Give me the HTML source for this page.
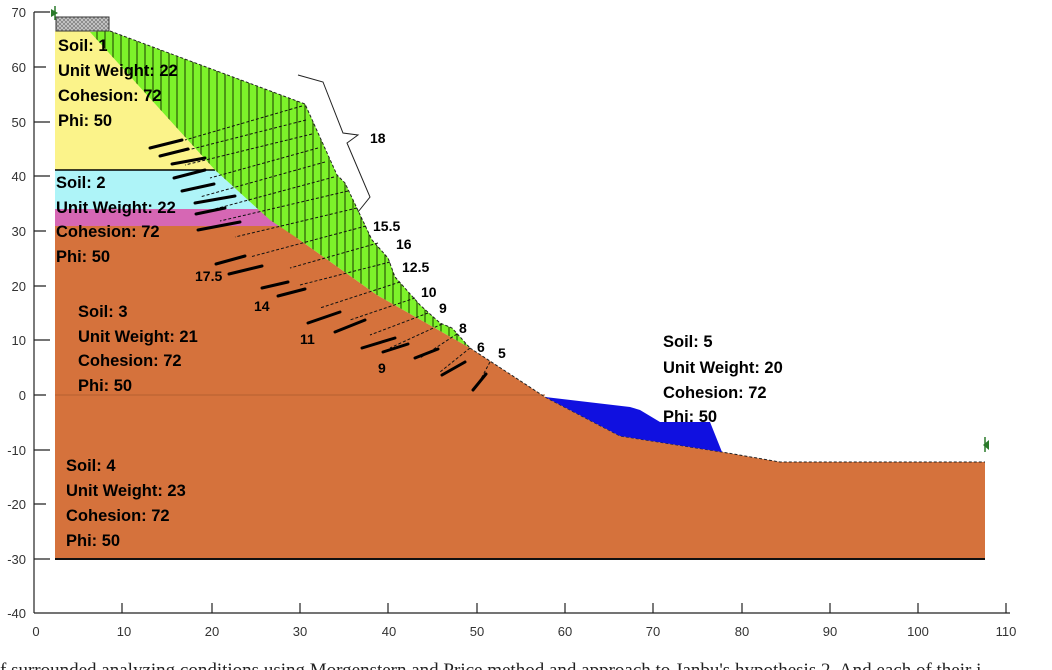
<!DOCTYPE html>
<html><head><meta charset="utf-8"><style>
html,body{margin:0;padding:0;background:#fff;width:1052px;height:670px;overflow:hidden}
svg{display:block}
.t{font-family:"Liberation Sans",Arial,sans-serif;font-weight:bold;font-size:16.5px;fill:#000}
.a{font-family:"Liberation Sans",Arial,sans-serif;font-size:13px;fill:#333}
</style></head><body>
<svg width="1052" height="670" viewBox="0 0 1052 670" xmlns="http://www.w3.org/2000/svg">
<defs>
<clipPath id="g"><polygon points="90,32 110,31 305,104 337,175 345,183 372,240 388,258 395,277 420,305 440,323 452,328 470,348 377,295 297,238 270,220 215,170"/></clipPath>
<pattern id="hx" width="4" height="4" patternUnits="userSpaceOnUse"><rect width="4" height="4" fill="#ccc"/><path d="M0,0L4,4M4,0L0,4" stroke="#777" stroke-width="0.7"/></pattern>
</defs>
<polygon points="55,559 55,226 285,226 297,238 377,295 470,348 545,397 620,436 722,452 780,462 985,462 985,559" fill="#d5723c"/>
<line x1="55" y1="395" x2="545" y2="395" stroke="#b5602f" stroke-width="1"/>
<line x1="55" y1="559" x2="985" y2="559" stroke="#111" stroke-width="2"/>
<polyline points="470,348 545,397 620,436 722,452 780,462 985,462" fill="none" stroke="#222" stroke-width="1" stroke-dasharray="3,2"/>
<polygon points="545,397 630,407 640,410 660,422 710,422 722,452 620,436" fill="#1010e0"/>
<polygon points="55,31 90,31 215,170 55,170" fill="#fbf38a"/>
<polygon points="55,170 215,170 258,209 55,209" fill="#aef4f8"/>
<polygon points="55,209 258,209 280,226 55,226" fill="#d667b4"/>
<line x1="55" y1="170" x2="215" y2="170" stroke="#000" stroke-width="1.5"/>
<polygon points="90,32 110,31 305,104 337,175 345,183 372,240 388,258 395,277 420,305 440,323 452,328 470,348 377,295 297,238 270,220 215,170" fill="#7df22a"/>
<g clip-path="url(#g)" stroke="#1a3a00" stroke-width="1">
<path d="M97,0V400M105,0V400M113,0V400M121,0V400M129,0V400M137,0V400M145,0V400M153,0V400M161,0V400M169,0V400M177,0V400M185,0V400M193,0V400M201,0V400M209,0V400M217,0V400M225,0V400M233,0V400M241,0V400M249,0V400M257,0V400M265,0V400M273,0V400M281,0V400M289,0V400M297,0V400M305,0V400M313,0V400M321,0V400M329,0V400M337,0V400M345,0V400M353,0V400M361,0V400M369,0V400M377,0V400M385,0V400M393,0V400M401,0V400M409,0V400M417,0V400M425,0V400M433,0V400M441,0V400M449,0V400M457,0V400M465,0V400"/>
</g>
<polyline points="110,31 305,104 337,175 345,183 372,240 388,258 395,277 420,305 440,323 452,328 470,348" fill="none" stroke="#222" stroke-width="1" stroke-dasharray="3,2"/>
<g stroke="#111" stroke-width="1" stroke-dasharray="3,2" fill="none">
<path d="M302,106L185,140M306,120L180,152M312,134L185,165M318,148L210,178M325,162L200,197M334,177L215,209M348,191L220,221M357,208L235,237M366,226L250,257M378,243L290,268M390,262L300,285M400,282L320,308M415,298L350,320M428,313L370,335M442,324L390,348M457,334L420,358M470,348L440,372M490,362L476,388"/>
</g>
<g stroke="#000" stroke-width="3" fill="none" stroke-linecap="round">
<path d="M150,148L182,140M160,156L188,149M172,164L205,158M174,178L205,170M182,191L214,184M195,203L235,196M196,214L225,208M198,230L240,222M216,264L245,256M229,274L262,266M262,288L288,282M278,296L305,289M308,323L340,312M335,332L365,320M362,348L395,338M383,352L408,344M415,358L438,349M442,375L465,362M473,390L486,374"/>
</g>
<rect x="56" y="17" width="53" height="14" fill="url(#hx)" stroke="#333" stroke-width="1"/>
<polyline points="298,75 323,82 343,133 358,135 347,143 370,197 358,212" fill="none" stroke="#222" stroke-width="1"/>
<line x1="55" y1="6" x2="55" y2="20" stroke="#2a7a2a" stroke-width="1.5"/><polygon points="51,9 58,13 51,17" fill="#2a7a2a"/>
<line x1="985" y1="437" x2="985" y2="452" stroke="#2a7a2a" stroke-width="1.5"/><polygon points="989,440 983,445 989,450" fill="#2a7a2a"/>
<g stroke="#222" stroke-width="1.2">
<line x1="34" y1="12" x2="34" y2="613"/>
<line x1="34" y1="613" x2="1010" y2="613"/>
<path d="M34,12H50M34,67H46M34,122H50M34,176H50M34,231H46M34,286H46M34,340H50M34,395H46M34,450H50M34,504H46M34,559H50"/>
<path d="M122,613V603M212,613V603M300,613V603M388,613V603M477,613V603M565,613V603M653,613V603M742,613V603M830,613V603M918,613V603M1006,613V603"/>
</g>
<g class="a" text-anchor="end">
<text x="26" y="17">70</text><text x="26" y="72">60</text><text x="26" y="127">50</text><text x="26" y="181">40</text><text x="26" y="236">30</text><text x="26" y="291">20</text><text x="26" y="345">10</text><text x="26" y="400">0</text><text x="26" y="455">-10</text><text x="26" y="509">-20</text><text x="26" y="564">-30</text><text x="26" y="618">-40</text>
</g>
<g class="a" text-anchor="middle">
<text x="36" y="636">0</text><text x="124" y="636">10</text><text x="212" y="636">20</text><text x="300" y="636">30</text><text x="389" y="636">40</text><text x="477" y="636">50</text><text x="565" y="636">60</text><text x="653" y="636">70</text><text x="742" y="636">80</text><text x="830" y="636">90</text><text x="918" y="636">100</text><text x="1006" y="636">110</text>
</g>
<g class="t">
<text x="58" y="51">Soil: 1</text><text x="58" y="76">Unit Weight: 22</text><text x="58" y="101">Cohesion: 72</text><text x="58" y="126">Phi: 50</text>
<text x="56" y="188">Soil: 2</text><text x="56" y="213">Unit Weight: 22</text><text x="56" y="237">Cohesion: 72</text><text x="56" y="262">Phi: 50</text>
<text x="78" y="317">Soil: 3</text><text x="78" y="342">Unit Weight: 21</text><text x="78" y="366">Cohesion: 72</text><text x="78" y="391">Phi: 50</text>
<text x="66" y="471">Soil: 4</text><text x="66" y="496">Unit Weight: 23</text><text x="66" y="521">Cohesion: 72</text><text x="66" y="546">Phi: 50</text>
<text x="663" y="347">Soil: 5</text><text x="663" y="373">Unit Weight: 20</text><text x="663" y="398">Cohesion: 72</text><text x="663" y="422">Phi: 50</text>
</g>
<g class="t" style="font-size:14px">
<text x="370" y="143">18</text><text x="373" y="231">15.5</text><text x="396" y="249">16</text><text x="402" y="272">12.5</text><text x="421" y="297">10</text><text x="439" y="313">9</text><text x="459" y="333">8</text><text x="477" y="352">6</text><text x="498" y="358">5</text>
<text x="195" y="281">17.5</text><text x="254" y="311">14</text><text x="300" y="344">11</text><text x="378" y="373">9</text>
</g>
<text x="0" y="676" style="font-family:'Liberation Serif',serif;font-size:19px;fill:#222">f surrounded analyzing conditions using Morgenstern and Price method and approach to Janbu's hypothesis 2. And each of their i</text>
</svg>
</body></html>
